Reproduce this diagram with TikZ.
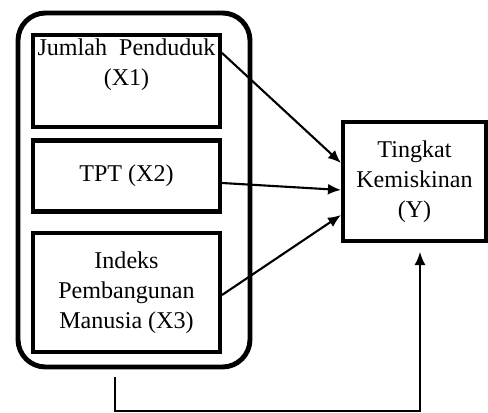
\documentclass[tikz,border=0pt]{standalone}
\usepackage{fontspec}
\setmainfont{Liberation Serif}
\usetikzlibrary{arrows.meta}

\tikzset{
  varbox/.style={draw,line width=2.3pt,align=center,inner sep=2pt,
    font=\fontsize{13.7}{17}\selectfont},
  link/.style={-{Latex[length=0.26cm,width=0.22cm]},line width=1.2pt}
}

\begin{document}
\begin{tikzpicture}
    \useasboundingbox (0,0) rectangle (9.76,8.26);
    % Group of independent variables
    \node[draw,line width=2.8pt,rounded corners=0.55cm,minimum width=4.64cm,minimum height=7.08cm] (outer) at (2.68,4.46) {};
    \node[varbox,minimum width=3.74cm,minimum height=1.84cm] (x1) at (2.53,6.64) {Jumlah\ \ Penduduk\\(X1)\\[4pt]};
    \node[varbox,minimum width=3.74cm,minimum height=1.42cm] (x2) at (2.53,4.74) {TPT (X2)};
    \node[varbox,minimum width=3.74cm,minimum height=2.38cm] (x3) at (2.53,2.41) {Indeks\\Pembangunan\\Manusia (X3)};
    % Dependent variable
    \node[varbox,minimum width=2.86cm,minimum height=2.38cm] (y) at (8.29,4.63) {Tingkat\\Kemiskinan\\(Y)};
    % Partial effects
    \draw[link] ([yshift=-0.4cm]x1.north east) -- ([yshift=0.37cm]y.west);
    \draw[link] ([yshift=-0.14cm]x2.east) -- ([yshift=-0.17cm]y.west);
    \draw[link] ([yshift=-0.05cm]x3.east) -- ([yshift=-0.67cm]y.west);
    % Simultaneous effect
    \draw[link,line width=0.9pt] ([xshift=-0.38cm,yshift=-0.16cm]outer.south) -- ++(0,-0.67) -| ([xshift=0.11cm,yshift=-0.18cm]y.south);
\end{tikzpicture}
\end{document}
